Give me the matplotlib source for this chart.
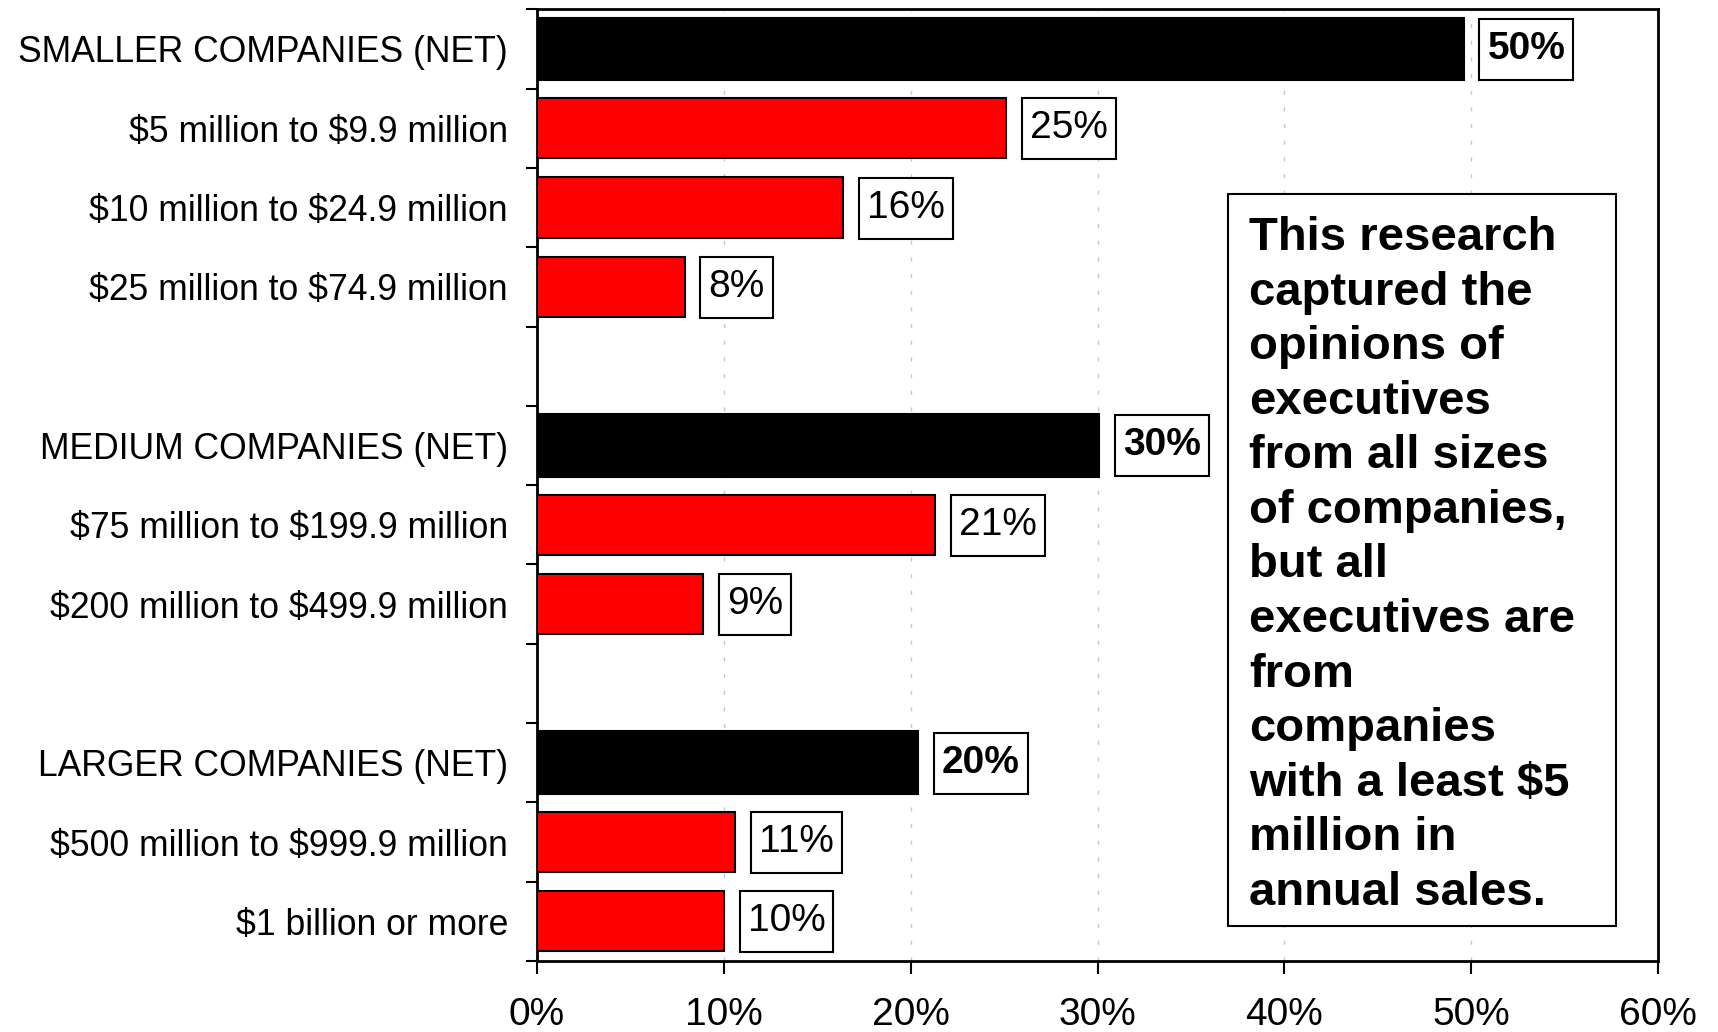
import matplotlib
matplotlib.use("Agg")
import matplotlib.pyplot as plt
from matplotlib.patches import Rectangle
from matplotlib.ticker import FixedLocator, PercentFormatter

plt.rcParams["font.family"] = ["Liberation Sans", "DejaVu Sans"]

# ── Data ────────────────────────────────────────────────────────────────
categories = [
    "SMALLER COMPANIES (NET)",
    r"\$5 million to \$9.9 million",
    r"\$10 million to \$24.9 million",
    r"\$25 million to \$74.9 million",
    "MEDIUM COMPANIES (NET)",
    r"\$75 million to \$199.9 million",
    r"\$200 million to \$499.9 million",
    "LARGER COMPANIES (NET)",
    r"\$500 million to \$999.9 million",
    r"\$1 billion or more",
]
values = [49.6, 25.1, 16.4, 7.9, 30.1, 21.3, 8.9, 20.4, 10.6, 10.0]
is_net = [True, False, False, False, True, False, False, True, False, False]
# row slot of each bar (slots 4 and 8 are left empty between groups)
slots = [0, 1, 2, 3, 5, 6, 7, 9, 10, 11]
n_slots = 12
x_ticks = [0, 10, 20, 30, 40, 50, 60]

note = ("This research\ncaptured the\nopinions of\nexecutives\nfrom all sizes\n"
        "of companies,\nbut all\nexecutives are\nfrom\ncompanies\n"
        "with a least \\$5\nmillion in\nannual sales.")

fig = plt.figure(figsize=(17.18, 10.32), dpi=100)
ax = fig.add_axes([0.3126, 0.0688, 0.6526, 0.9222])

colors = ["black" if n else "#ff0000" for n in is_net]
heights = [0.79 if n else 0.76 for n in is_net]
ax.barh(slots, values, height=heights, color=colors, edgecolor="black",
        linewidth=1.5, zorder=3)

# value labels
labels = []
for s, v, n in zip(slots, values, is_net):
    t = ax.annotate(f"{v:.0f}%", (v, s), xytext=(17, 0), textcoords="offset points",
                    ha="left", va="center", fontsize=28,
                    fontweight="bold" if n else "normal", zorder=5)
    labels.append(t)

ax.set_xlim(0, 60)
ax.set_ylim(n_slots - 0.5, -0.5)

# x axis
ax.set_xticks(x_ticks)
ax.xaxis.set_major_formatter(PercentFormatter(decimals=0))
ax.tick_params(axis="x", direction="out", length=9, width=1.5, pad=17, labelsize=28)
ax.xaxis.grid(True, color="#c8c8c8", linestyle=(0, (3, 9)), linewidth=1, zorder=0)

# y axis: ticks on slot boundaries, labels centred on bars
ax.yaxis.set_major_locator(FixedLocator([i - 0.5 for i in range(n_slots + 1)]))
ax.yaxis.set_minor_locator(FixedLocator(slots))
ax.set_yticklabels([], minor=False)
ax.set_yticklabels(categories, minor=True)
ax.tick_params(axis="y", which="major", direction="out", length=8, width=1.5)
ax.tick_params(axis="y", which="minor", length=0, pad=21, labelsize=25.6)

for sp in ax.spines.values():
    sp.set_linewidth(2)

# boxes around the value labels (wider vertical padding than bbox allows)
fig.canvas.draw()
inv = ax.transData.inverted()
for t in labels:
    bb = t.get_window_extent()
    x0, y0 = inv.transform((bb.x0 - 8, bb.y0 - 13))
    x1, y1 = inv.transform((bb.x1 + 8, bb.y1 + 12))
    ax.add_patch(Rectangle((x0, y0), x1 - x0, y1 - y0, facecolor="white",
                           edgecolor="black", linewidth=1.5, zorder=4))

# note box
ax.add_patch(Rectangle((0.616, 0.0368), 0.3465, 0.769, transform=ax.transAxes,
                       facecolor="white", edgecolor="black", linewidth=1.5, zorder=5))
ax.text(0.635, 0.7826, note, transform=ax.transAxes, ha="left", va="top",
        fontsize=34, fontweight="bold", linespacing=1.31, zorder=6)

fig.savefig("out.png", dpi=100)
